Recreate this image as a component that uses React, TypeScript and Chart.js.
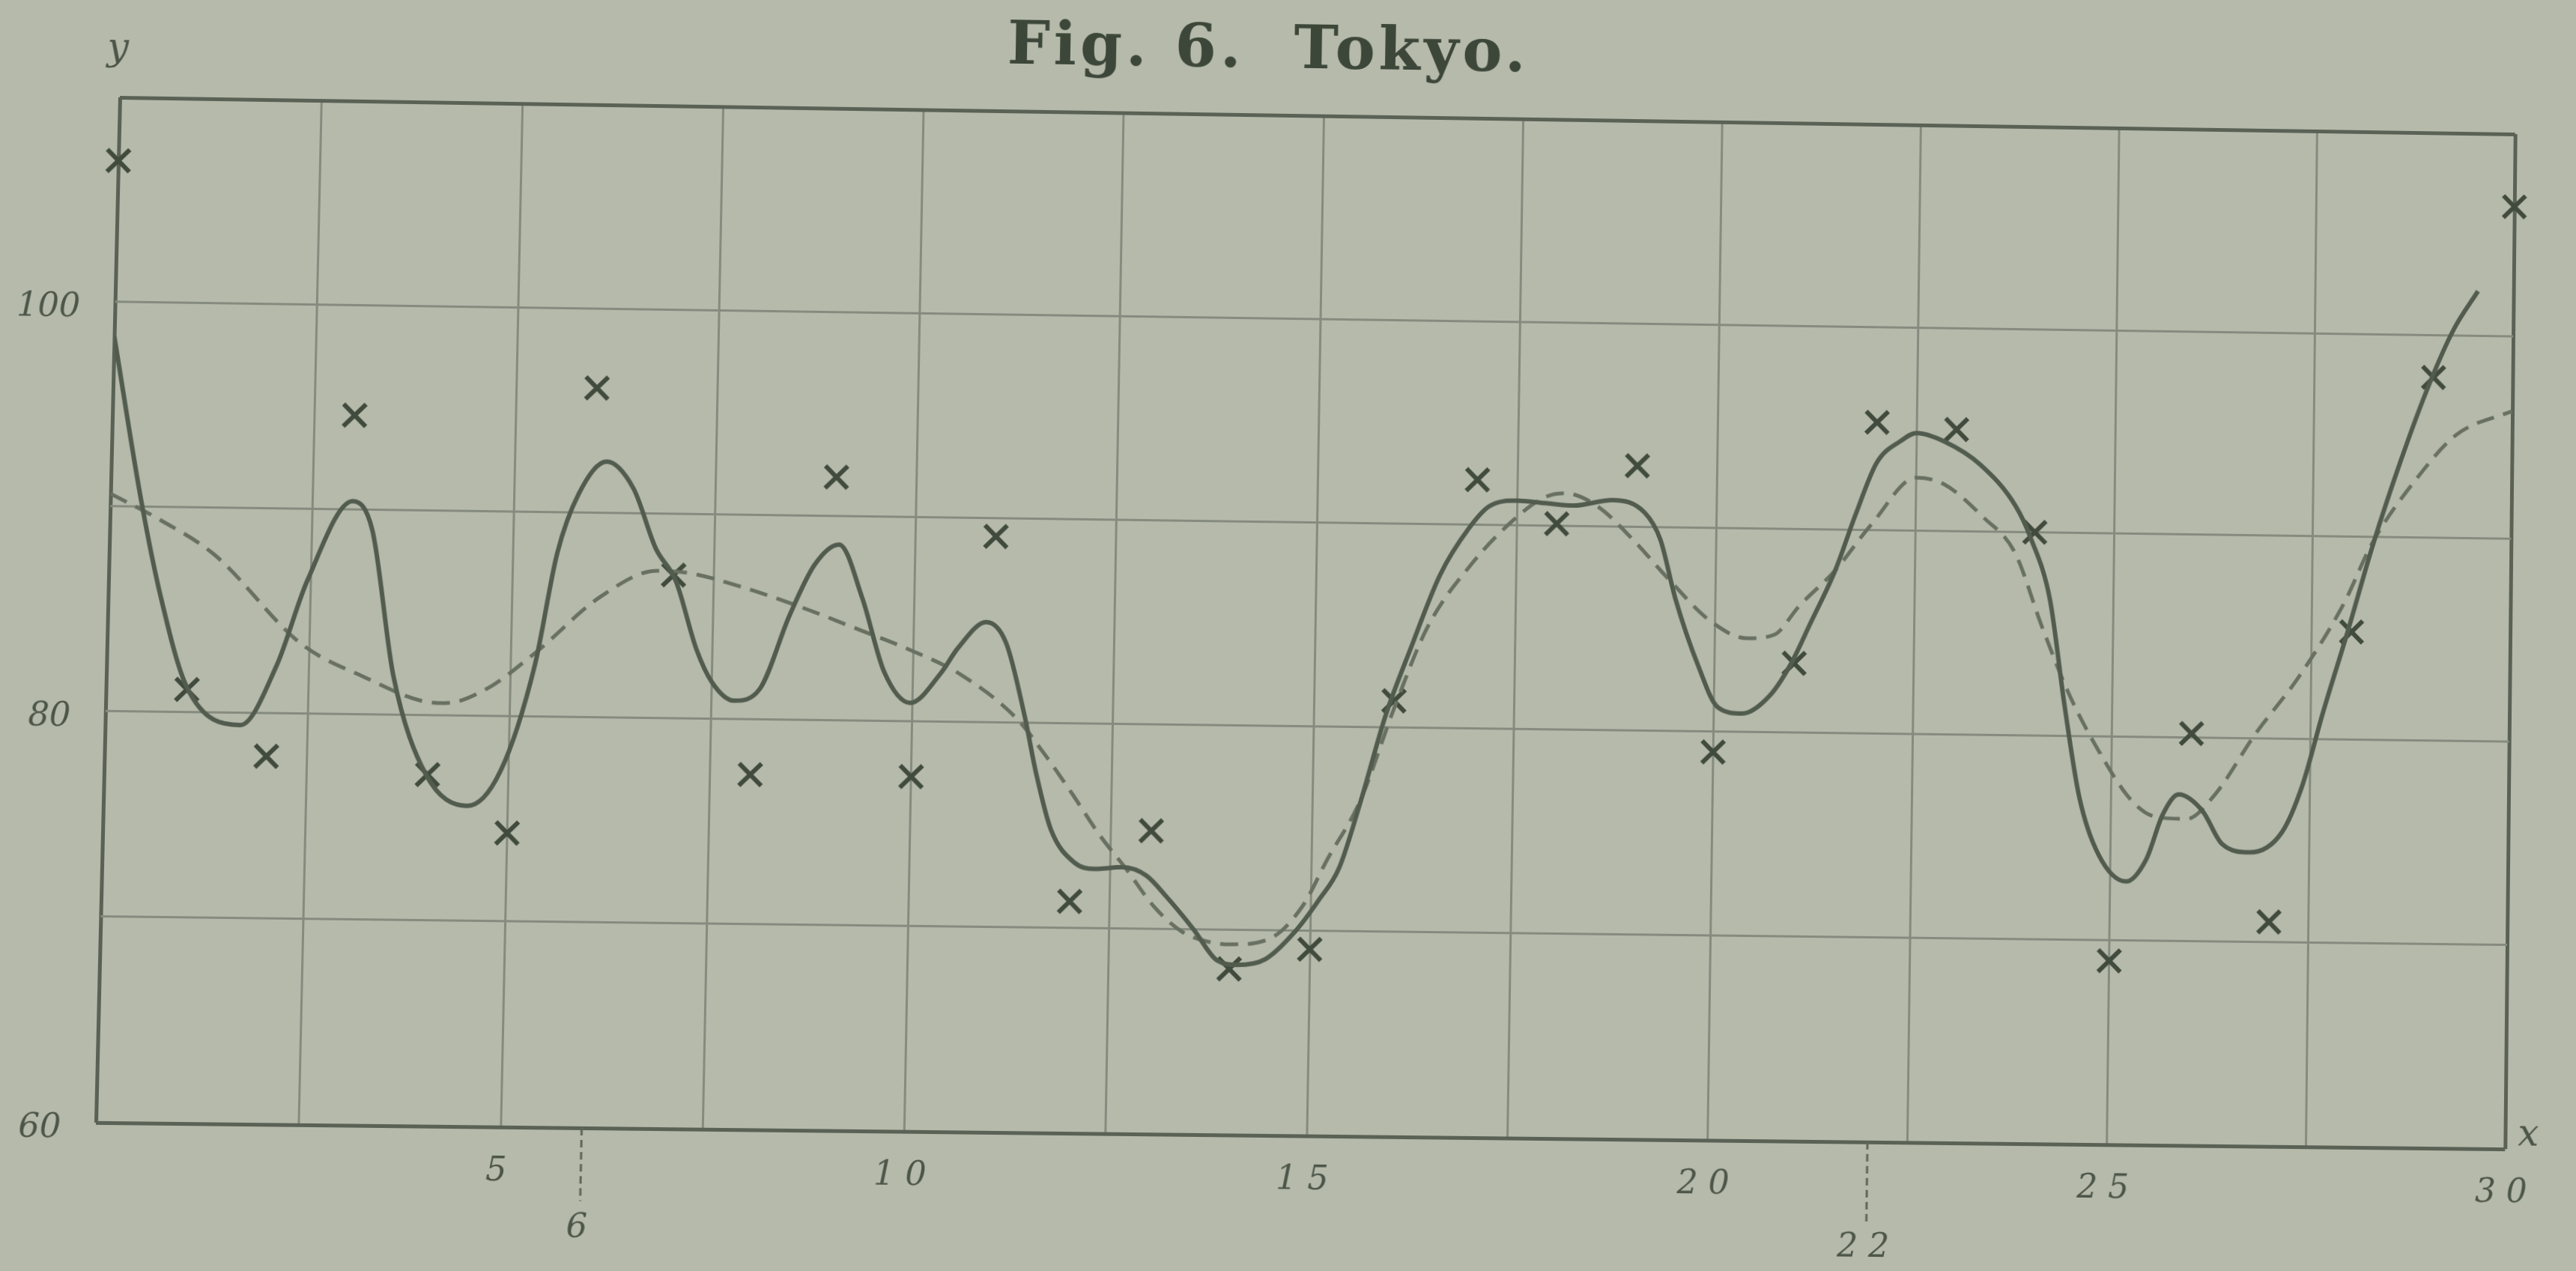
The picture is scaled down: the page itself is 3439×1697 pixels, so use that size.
import { useEffect, useRef } from "react";
import { Chart, registerables } from "chart.js";

Chart.register(...registerables);

// Daily observations (marked with crosses)
const days = [
  0, 1, 2, 3, 4, 5, 6, 7, 8, 9, 10, 11, 12, 13, 14, 15,
  16, 17, 18, 19, 20, 21, 22, 23, 24, 25, 26, 27, 28, 29, 30,
];
const observed = [
  106.9, 81.1, 77.9, 94.6, 77.1, 74.3, 96.1, 87.0, 77.3, 91.9, 77.3,
  89.1, 71.3, 74.8, 68.1, 69.1, 81.3, 92.2, 90.1, 93.0, 79.0,
  83.4, 95.3, 95.0, 90.0, 69.0, 80.2, 71.0, 85.3, 97.9, 106.4,
];

// Full curve (solid line)
const fullCurveX = [
  0, 0.38, 0.65, 1.0, 1.67, 2.1, 2.46, 3.0, 3.25, 3.55, 3.98, 4.5, 4.9,
  5.3, 5.55, 5.8, 6.14, 6.48, 6.77, 7.03, 7.3, 7.5, 7.78, 8.1, 8.45, 8.75,
  9.05, 9.35, 9.64, 9.97, 10.35, 10.55, 10.9, 11.15, 11.4, 11.55, 11.75,
  12.05, 12.3, 12.65, 12.95, 13.2, 13.55, 13.85, 14.1, 14.45, 14.8, 15.1,
  15.35, 15.6, 15.9, 16.2, 16.55, 16.9, 17.15, 17.5, 17.85, 18.2, 18.7,
  19.1, 19.3, 19.5, 19.8, 20.05, 20.35, 20.7, 20.95, 21.2, 21.5, 21.75,
  22.0, 22.3, 22.5, 22.85, 23.3, 23.75, 23.95, 24.2, 24.4, 24.6, 24.85,
  25.2, 25.45, 25.65, 25.85, 26.15, 26.4, 26.75, 27.15, 27.4, 27.65,
  27.95, 28.25, 28.6, 28.95, 29.25, 29.55,
];
const fullCurveY = [
  98.3, 90.3, 85.6, 81.2, 79.4, 82.3, 86.5, 90.4, 89.0, 81.9, 77.1, 75.6, 77.3,
  82.5, 88.0, 90.9, 92.5, 91.2, 88.3, 86.7, 83.4, 81.8, 80.9, 81.5, 85.1, 87.6,
  88.6, 86.0, 82.4, 80.9, 82.4, 83.6, 84.9, 83.9, 80.3, 77.6, 74.8,
  73.2, 72.9, 73.0, 72.6, 71.6, 70.0, 68.5, 68.3, 68.6, 69.9, 71.5,
  73.1, 76.3, 80.6, 83.9, 87.5, 89.8, 90.9, 91.2, 91.1, 91.0, 91.3,
  90.7, 89.4, 86.5, 83.2, 81.2, 80.9, 81.8, 83.3, 85.4, 88.0, 90.8,
  93.3, 94.4, 94.8, 94.4, 93.3, 91.3, 89.7, 86.7, 81.5, 77.0, 74.2,
  72.9, 74.0, 76.2, 77.2, 76.4, 74.8, 74.4, 75.4, 77.7, 81.3,
  85.3, 89.5, 93.8, 97.6, 100.3, 102.2,
];

// Smoothed curve (dashed line)
const smoothCurveX = [
  0, 0.6, 1.3, 2.4, 3.2, 3.9, 4.2, 4.7, 5.3, 6.1, 6.8, 7.2, 7.9, 8.6, 9.35,
  9.95, 10.6, 11.3, 11.65, 12.0, 12.35, 12.7, 13.05, 13.4, 13.75, 14.0, 14.5,
  14.9, 15.2, 15.6, 16.0, 16.4, 16.95, 17.5, 17.85, 18.1, 18.5, 18.95, 19.4,
  19.95, 20.4, 20.75, 21.05, 21.5, 21.95, 22.5, 22.85, 23.35, 23.75, 24.1,
  24.45, 24.85, 25.25, 25.55, 25.95, 26.3, 26.8, 27.35, 27.9, 28.25, 28.8,
  29.3, 30.0,
];
const smoothCurveY = [
  90.6, 89.4, 87.7, 83.4, 81.8, 80.7, 80.6, 81.3, 83.1, 85.9, 87.2, 87.1, 86.4, 85.5, 84.4,
  83.5, 82.3, 80.2, 78.5, 76.6, 74.6, 72.9, 71.1, 69.9, 69.4, 69.3, 69.6,
  71.2, 73.5, 76.4, 80.9, 84.9, 88.1, 90.4, 91.4, 91.6, 91.0, 89.4, 87.5,
  85.4, 84.6, 84.8, 86.2, 88.0, 90.3, 92.6, 92.3, 90.7, 89.0, 85.4,
  82.1, 79.2, 76.9, 76.1, 76.0, 77.2, 80.2, 83.1, 86.7, 89.7, 92.9,
  95.1, 96.3,
];

// Axis labelling
const xLabelValues = [5, 10, 15, 20, 25, 30];
const yLabelValues = [60, 80, 100];
const markedDays = [6, 22];
const titleText = "Fig. 6.  Tokyo.";

const PAPER = "#b5baab";
const INK = "#4c5648";
const GRID = "#858b7e";
const FRAME = "#5a6155";

// Canvas size and plot frame on the canvas
const W = 3439;
const H = 1697;
const FRAME_LEFT = 144;
const FRAME_TOP = 150;
const FRAME_RIGHT = 3350;
const FRAME_BOTTOM = 1516;

// Where the frame corners sit on the slightly skewed sheet (TL, TR, BR, BL)
const sheetCorners = [
  [160, 130],
  [3357, 179],
  [3344, 1534],
  [128, 1499],
];

// Projective transform taking the flat frame onto the skewed sheet
function sheetTransform(): string {
  const src = [
    [FRAME_LEFT, FRAME_TOP],
    [FRAME_RIGHT, FRAME_TOP],
    [FRAME_RIGHT, FRAME_BOTTOM],
    [FRAME_LEFT, FRAME_BOTTOM],
  ];
  const A: number[][] = [];
  const b: number[] = [];
  for (let i = 0; i < 4; i++) {
    const [x, y] = src[i];
    const [u, v] = sheetCorners[i];
    A.push([x, y, 1, 0, 0, 0, -x * u, -y * u]);
    b.push(u);
    A.push([0, 0, 0, x, y, 1, -x * v, -y * v]);
    b.push(v);
  }
  const n = 8;
  for (let c = 0; c < n; c++) {
    let p = c;
    for (let r = c + 1; r < n; r++) if (Math.abs(A[r][c]) > Math.abs(A[p][c])) p = r;
    [A[c], A[p]] = [A[p], A[c]];
    [b[c], b[p]] = [b[p], b[c]];
    for (let r = 0; r < n; r++) {
      if (r === c) continue;
      const f = A[r][c] / A[c][c];
      for (let k = c; k < n; k++) A[r][k] -= f * A[c][k];
      b[r] -= f * b[c];
    }
  }
  const h = b.map((v, i) => v / A[i][i]);
  return `matrix3d(${h[0]},${h[3]},0,${h[6]},${h[1]},${h[4]},0,${h[7]},0,0,1,0,${h[2]},${h[5]},0,1)`;
}

const decorations = {
  id: "decorations",
  afterDraw(chart: any) {
    const { ctx, chartArea: a, scales } = chart;
    ctx.save();
    ctx.textAlign = "center";
    ctx.textBaseline = "middle";

    // title
    ctx.fillStyle = "#3c4639";
    ctx.font = 'bold 80px "DejaVu Serif"';
    (ctx as any).letterSpacing = "5px";
    ctx.fillText(titleText, a.left + 1528, a.top - 85);
    (ctx as any).letterSpacing = "0px";

    // axis letters
    ctx.fillStyle = INK;
    ctx.font = 'italic 50px "DejaVu Serif"';
    ctx.fillText("y", a.left - 4, a.top - 64);
    ctx.fillText("x", a.right + 31, a.bottom - 18);

    // marked days below the axis
    const drops = [97, 108];
    const labelGaps = [134, 142];
    ctx.strokeStyle = "#5f665a";
    ctx.lineWidth = 3;
    ctx.setLineDash([10, 6]);
    ctx.font = 'italic 44px "DejaVu Serif"';
    markedDays.forEach((d, i) => {
      const px = scales.x.getPixelForValue(d);
      ctx.beginPath();
      ctx.moveTo(px, a.bottom);
      ctx.lineTo(px, a.bottom + drops[i]);
      ctx.stroke();
      ctx.fillText(String(d).split("").join(" "), px - 4, a.bottom + labelGaps[i]);
    });
    ctx.restore();
  },
};

export default function App() {
  const canvasRef = useRef<HTMLCanvasElement>(null);

  useEffect(() => {
    const canvas = canvasRef.current;
    if (!canvas) return;

    const edgeColor = (edges: number[]) => (c: any) =>
      c.tick && edges.includes(c.tick.value) ? FRAME : GRID;
    const edgeWidth = (edges: number[]) => (c: any) =>
      c.tick && edges.includes(c.tick.value) ? 5 : 3;

    const chart = new Chart(canvas, {
      type: "scatter",
      data: {
        datasets: [
          {
            label: "full",
            data: fullCurveX.map((x, i) => ({ x, y: fullCurveY[i] })),
            showLine: true,
            borderColor: "#525c4e",
            borderWidth: 6,
            pointRadius: 0,
            cubicInterpolationMode: "monotone",
            fill: false,
          },
          {
            label: "smooth",
            data: smoothCurveX.map((x, i) => ({ x, y: smoothCurveY[i] })),
            showLine: true,
            borderColor: "#687062",
            borderWidth: 5,
            borderDash: [24, 13],
            pointRadius: 0,
            cubicInterpolationMode: "monotone",
            fill: false,
          },
          {
            label: "observed",
            data: days.map((x, i) => ({ x, y: observed[i] })),
            showLine: false,
            pointStyle: "crossRot",
            pointRadius: 21,
            pointBorderWidth: 6,
            pointBorderColor: "#414b3d",
            borderColor: "#414b3d",
            clip: false,
          } as any,
        ],
      },
      options: {
        responsive: false,
        animation: false,
        devicePixelRatio: 1,
        layout: {
          padding: { left: 0, top: FRAME_TOP, right: W - FRAME_RIGHT, bottom: 0 },
        },
        plugins: {
          legend: { display: false },
          tooltip: { enabled: false },
          title: { display: false },
        },
        scales: {
          x: {
            type: "linear",
            min: 0,
            max: 30,
            afterFit: (s: any) => {
              s.height = H - FRAME_BOTTOM;
            },
            border: { display: false },
            grid: {
              color: edgeColor([0, 30]),
              lineWidth: edgeWidth([0, 30]),
              drawTicks: false,
            },
            ticks: {
              stepSize: 2.5,
              autoSkip: false,
              maxRotation: 0,
              padding: 33,
              labelOffset: -5,
              color: INK,
              font: { family: '"DejaVu Serif"', size: 44, style: "italic" },
              callback: (v: any) =>
                xLabelValues.includes(Number(v)) ? String(v).split("").join(" ") : "",
            },
          },
          y: {
            type: "linear",
            min: 60,
            max: 110,
            afterFit: (s: any) => {
              s.width = FRAME_LEFT;
            },
            border: { display: false },
            grid: {
              color: edgeColor([60, 110]),
              lineWidth: edgeWidth([60, 110]),
              drawTicks: false,
            },
            ticks: {
              stepSize: 10,
              autoSkip: false,
              padding: 46,
              labelOffset: 9,
              color: INK,
              font: { family: '"DejaVu Serif"', size: 44, style: "italic" },
              callback: (v: any) => (yLabelValues.includes(Number(v)) ? String(v) : ""),
            },
          },
        },
      },
      plugins: [decorations],
    });

    return () => chart.destroy();
  }, []);

  return (
    <div
      style={{
        position: "fixed",
        left: 0,
        top: 0,
        width: W,
        height: H,
        background: PAPER,
        overflow: "hidden",
      }}
    >
      <canvas
        ref={canvasRef}
        width={W}
        height={H}
        style={{
          display: "block",
          width: W,
          height: H,
          transform: sheetTransform(),
          transformOrigin: "0 0",
        }}
      />
    </div>
  );
}
